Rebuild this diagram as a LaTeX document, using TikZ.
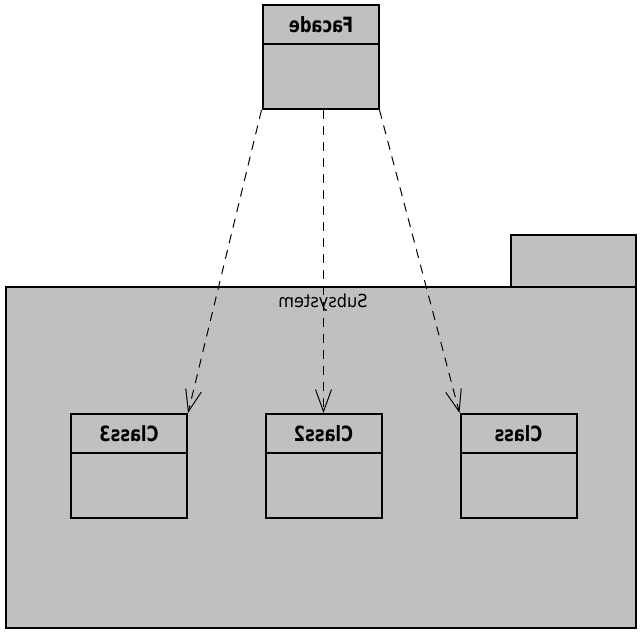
\documentclass[tikz,border=0pt]{standalone}
\usepackage{fontspec}
\setsansfont{DejaVu Sans Condensed}
\usetikzlibrary{arrows.meta,positioning}
\definecolor{BoxGray}{RGB}{192,192,192}

\tikzset{
  classbox/.style={draw, fill=BoxGray, line width=2pt, minimum width=116pt, minimum height=104pt, inner sep=0pt},
  pkgbox/.style={draw, fill=BoxGray, line width=2pt, inner sep=0pt},
  title/.style={font=\sffamily\bfseries\fontsize{21}{21}\selectfont}
  ,dep/.style={-{Straight Barb[length=22pt,width=16pt]}, line width=1pt, dash pattern=on 9pt off 7pt}
}
\newcommand{\mirtext}[1]{\scalebox{-0.86}[1]{#1}}

\begin{document}
\begin{tikzpicture}[x=1pt,y=-1pt]
  \useasboundingbox (0,0) rectangle (640,640);
  % package
  \node[pkgbox, minimum width=125pt, minimum height=52pt] (tab) at (573.5,261) {};
  \node[pkgbox, minimum width=630pt, minimum height=341pt] (subsystem) at (321,457.5) {};
  \node[font=\sffamily\fontsize{18}{18}\selectfont] (subT) at (323,303) {\reflectbox{Subsystem}};
  % facade
  \node[classbox] (facade) at (320.5,57) {};
  \draw[line width=2pt] (263,44) -- (378,44);
  \node[title] (facadeT) at (321,25) {\mirtext{Facade}};
  % classes
  \node[classbox] (class3) at (129,466) {};
  \node[classbox] (class2) at (323.5,466) {};
  \node[classbox] (class1) at (518.5,466) {};
  \draw[line width=2pt] (71,453) -- (187,453);
  \draw[line width=2pt] (266,453) -- (381,453);
  \draw[line width=2pt] (461,453) -- (576,453);
  \node[title] (class3T) at (129,434) {\mirtext{Class3}};
  \node[title] (class2T) at (323.5,434) {\mirtext{Class2}};
  \node[title] (class1T) at (518.5,434) {\mirtext{Class}};
  % dependencies
  \draw[dep] (facade.south west) -- (class3.north east);
  \draw[dep] (class2.north |- facade.south) -- (class2.north);
  \draw[dep] (facade.south east) -- (class1.north west);
\end{tikzpicture}
\end{document}
